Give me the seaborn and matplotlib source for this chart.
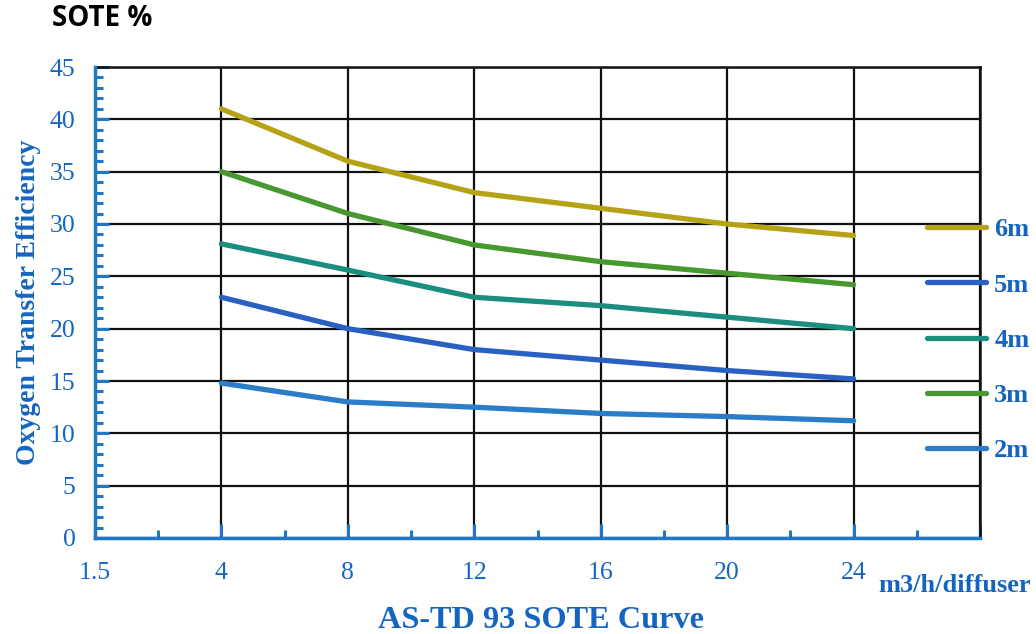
import matplotlib
matplotlib.use("Agg")
import matplotlib.pyplot as plt
from matplotlib.ticker import MultipleLocator, FixedLocator
from matplotlib.lines import Line2D
import seaborn as sns
import pandas as pd

# ---- data ----
x_labels = ["1.5", "4", "8", "12", "16", "20", "24", ""]
flows = ["4", "8", "12", "16", "20", "24"]
sote_6m = [41.0, 36.0, 33.0, 31.5, 30.0, 28.9]
sote_5m = [23.0, 20.0, 18.0, 17.0, 16.0, 15.2]
sote_4m = [28.1, 25.6, 23.0, 22.2, 21.1, 20.0]
sote_3m = [35.0, 31.0, 28.0, 26.4, 25.3, 24.2]
sote_2m = [14.8, 13.0, 12.5, 11.9, 11.6, 11.2]
depths = ["6m", "5m", "4m", "3m", "2m"]
series = {"6m": sote_6m, "5m": sote_5m, "4m": sote_4m, "3m": sote_3m, "2m": sote_2m}
colors = {"6m": "#B5A216", "5m": "#2A60C2", "4m": "#1B8E80", "3m": "#46982F", "2m": "#2B7CC9"}

rows = []
for d in depths:
    for f, v in zip(flows, series[d]):
        rows.append({"pos": x_labels.index(f), "sote": v, "depth": d})
df = pd.DataFrame(rows)

sns.set_theme(style="white")
plt.rcParams['font.family'] = ['Liberation Serif', 'DejaVu Serif']

blue_txt = "#1565C0"
spine_blue = "#1F77C8"

fig = plt.figure(figsize=(10.36, 6.34), dpi=100)
ax = fig.add_axes([95/1036, 1-538/634, (980-95)/1036, (538-67)/634])

sns.lineplot(data=df, x="pos", y="sote", hue="depth", hue_order=depths,
             palette=colors, linewidth=3.8, ax=ax, legend=False,
             solid_capstyle="round")

ax.set_xlim(0, 7)
ax.set_ylim(0, 45)

# grid
ax.xaxis.set_major_locator(FixedLocator(range(8)))
ax.xaxis.set_minor_locator(FixedLocator([0.5 + i for i in range(7)]))
ax.yaxis.set_major_locator(MultipleLocator(5))
ax.yaxis.set_minor_locator(MultipleLocator(1))
ax.grid(True, which="major", color="#111111", linewidth=1.6)
ax.grid(False, which="minor")
ax.set_axisbelow(True)

ax.set_xticks(range(8))
ax.set_xticklabels(x_labels)
ax.tick_params(axis="both", which="both", bottom=True, left=True, top=False, right=False)
ax.tick_params(axis="both", which="major", direction="in", length=10, width=2.2,
               color=spine_blue, labelcolor=blue_txt, labelsize=18.5)
ax.tick_params(axis="both", which="minor", direction="in", length=6, width=2.2,
               color=spine_blue)
ax.tick_params(axis="x", which="major", pad=17)
ax.tick_params(axis="y", which="major", pad=14)

for s in ["left", "bottom"]:
    ax.spines[s].set_color(spine_blue)
    ax.spines[s].set_linewidth(2.5)
    ax.spines[s].set_zorder(5)
for s in ["top", "right"]:
    ax.spines[s].set_color("#111111")
    ax.spines[s].set_linewidth(1.8)

ax.set_xlabel("")
ax.set_ylabel("Oxygen Transfer Efficiency", color=blue_txt, fontsize=20,
              fontweight="bold", labelpad=6)

fig.text(541/1036, 1-620/634, "AS-TD 93 SOTE Curve", color=blue_txt, fontsize=23.2,
         fontweight="bold", ha="center", va="center")
fig.text(878/1036, 1-585/634, "m3/h/diffuser", color=blue_txt, fontsize=19,
         fontweight="bold", ha="left", va="center")
fig.text(52/1036, 1-18/634, "SOTE %", color="black", fontsize=20,
         fontweight="bold", ha="left", va="center", family=["Open Sans", "DejaVu Sans"])

handles = [Line2D([0], [0], color=colors[d], linewidth=3.8, solid_capstyle="round") for d in depths]
leg = fig.legend(handles, depths, loc="upper left", bbox_to_anchor=(927/1036, 1-218/634),
                 frameon=False, handlelength=2.25, handletextpad=0.3, labelspacing=1.2,
                 borderpad=0, borderaxespad=0,
                 prop={"family": "Liberation Serif", "weight": "bold", "size": 19})
for t in leg.get_texts():
    t.set_color(blue_txt)

fig.savefig("out.png", dpi=100)
